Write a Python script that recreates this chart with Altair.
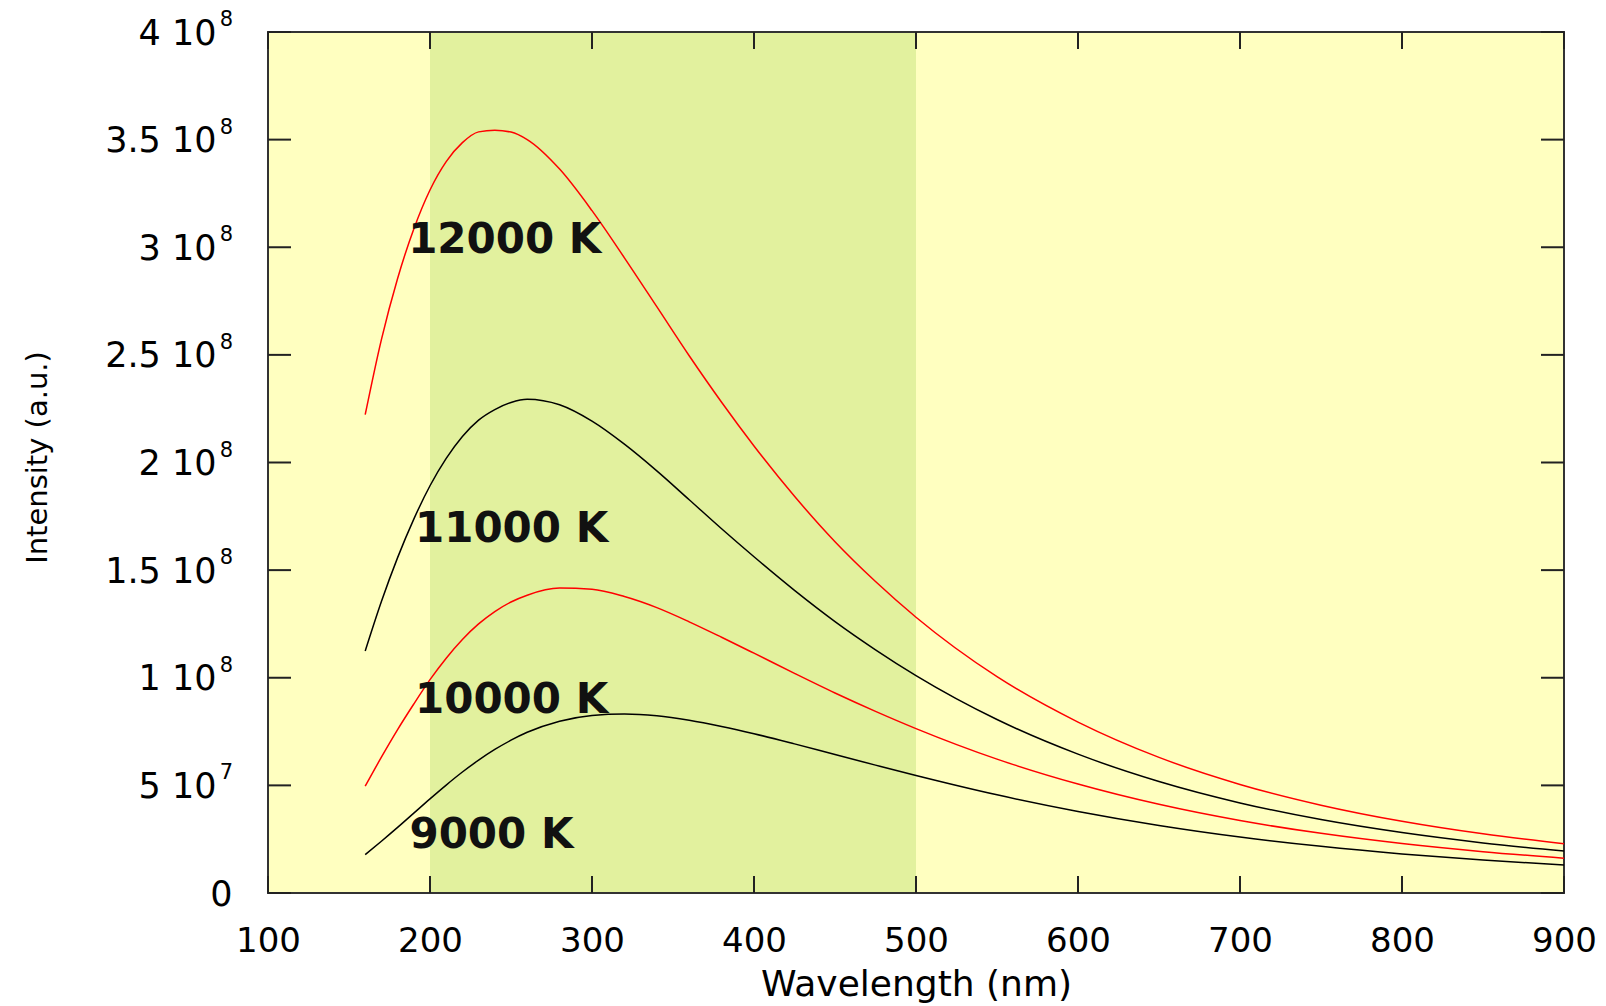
import json
import altair as alt
import pandas as pd

# ---------------- data (intensity in units of 1e8) ----------------
wavelength_nm = [160, 170, 180, 190, 200, 210, 220, 230, 240, 250, 260, 280, 300, 320, 340,
                 360, 380, 400, 425, 450, 475, 500, 550, 600, 650, 700, 750, 800, 850, 900]

intensity_12000K = [2.222, 2.571, 2.855, 3.085, 3.266, 3.398, 3.486, 3.536, 3.544, 3.535, 3.500,
                    3.363, 3.170, 2.951, 2.724, 2.496, 2.280, 2.077, 1.843, 1.632, 1.447, 1.281,
                    1.005, 0.794, 0.630, 0.5045, 0.408, 0.3332, 0.2749, 0.229]
intensity_11000K = [1.124, 1.354, 1.558, 1.737, 1.892, 2.019, 2.121, 2.197, 2.246, 2.279, 2.294,
                    2.268, 2.192, 2.085, 1.961, 1.827, 1.692, 1.562, 1.406, 1.261, 1.130, 1.010,
                    0.806, 0.645, 0.518, 0.4185, 0.341, 0.2806, 0.2327, 0.1948]
intensity_10000K = [0.496, 0.631, 0.759, 0.878, 0.991, 1.091, 1.178, 1.250, 1.3075, 1.352, 1.3835,
                    1.4164, 1.4108, 1.3772, 1.3256, 1.2598, 1.1881, 1.1141, 1.0203, 0.9292,
                    0.8439, 0.7638, 0.6220, 0.5062, 0.4120, 0.3367, 0.2771, 0.2298, 0.1921, 0.1618]
intensity_9000K = [0.178, 0.2405, 0.3047, 0.3711, 0.4374, 0.5015, 0.562, 0.6172, 0.6668, 0.7099,
                   0.7466, 0.7983, 0.8251, 0.8320, 0.8236, 0.8027, 0.7738, 0.7401, 0.6927, 0.6431,
                   0.594, 0.5458, 0.456, 0.3789, 0.3138, 0.2601, 0.2168, 0.1816, 0.1532, 0.1301]

series_names = ["12000 K", "11000 K", "10000 K", "9000 K"]
series_values = [intensity_12000K, intensity_11000K, intensity_10000K, intensity_9000K]
series_colors = ["#ff0000", "#000000", "#ff0000", "#000000"]

label_text = ["12000 K", "11000 K", "10000 K", "9000 K"]
label_x = [186.5, 190.7, 190.7, 187.3]
label_y = [2.973, 1.632, 0.838, 0.2075]

band_start, band_end = 200, 500

x_ticks = [100, 200, 300, 400, 500, 600, 700, 800, 900]
y_ticks = [0, 0.5, 1, 1.5, 2, 2.5, 3, 3.5, 4]
y_tick_main = ["0", "5 10", "1 10", "1.5 10", "2 10", "2.5 10", "3 10", "3.5 10", "4 10"]
y_tick_exp = ["", "7", "8", "8", "8", "8", "8", "8", "8"]

# ---------------- tables ----------------
rows = []
for name, vals in zip(series_names, series_values):
    for wl, v in zip(wavelength_nm, vals):
        rows.append({"wl": wl, "I": v, "series": name})
curves = pd.DataFrame(rows)
labels = pd.DataFrame({"wl": label_x, "I": label_y, "t": label_text})
band = pd.DataFrame({"wl": [band_start], "b": [band_end]})
xt = pd.DataFrame({"wl": x_ticks})
yt = pd.DataFrame({"I": y_ticks, "e": y_tick_exp})

W, H = 1296, 861
FONT = "DejaVu Sans"
xs = alt.Scale(domain=[100, 900], nice=False, zero=False)
ys = alt.Scale(domain=[0, 4], nice=False, zero=False)

label_expr = "{}[indexof({}, datum.value)]".format(
    json.dumps(y_tick_main, ensure_ascii=False), json.dumps(y_ticks))

x_axis = alt.Axis(values=x_ticks, format="d", grid=False, domain=False, ticks=False, tickSize=0,
                  labelPadding=58, labelBaseline="alphabetic", labelFont=FONT, labelFontSize=34,
                  labelColor="#000000", labelFlush=False, labelOverlap=False,
                  title="Wavelength (nm)", titleFont=FONT, titleFontSize=36,
                  titleFontWeight="normal", titleColor="#000000", titleX=W / 2, titleY=102,
                  titleAlign="center", titleBaseline="alphabetic")
y_axis = alt.Axis(values=y_ticks, labelExpr=label_expr, grid=False, domain=False, ticks=False,
                  tickSize=0,
                  labelPadding={"condition": {"test": "datum.value == 0", "value": 36}, "value": 52},
                  labelAlign="right", labelBaseline="alphabetic",
                  labelOffset=12, labelFont=FONT, labelFontSize=35, labelColor="#000000",
                  labelOverlap=False, labelFlush=False,
                  title="Intensity (a.u.)", titleFont=FONT, titleFontSize=29,
                  titleFontWeight="normal", titleColor="#000000", titleAngle=270,
                  titleX=-222, titleY=425, titleAlign="center", titleBaseline="alphabetic")

X = alt.X("wl:Q", scale=xs, axis=x_axis)
Y = alt.Y("I:Q", scale=ys, axis=y_axis)

band_layer = alt.Chart(band).mark_rect(color="#E2F19E").encode(
    x=X, x2="b:Q", y=alt.value(1), y2=alt.value(H - 1))

line_layer = alt.Chart(curves).mark_line(strokeWidth=1.5, interpolate="monotone").encode(
    x=X, y=Y,
    color=alt.Color("series:N", scale=alt.Scale(domain=series_names, range=series_colors),
                    legend=None),
    detail="series:N")

text_layer = alt.Chart(labels).mark_text(align="left", baseline="alphabetic", font=FONT,
                                          fontWeight="bold", fontSize=42, color="#111111").encode(
    x=X, y=Y, text="t:N")

tick_style = dict(color="#222222", strokeWidth=2)
xb = alt.Chart(xt).mark_rule(**tick_style).encode(x=X, y=alt.value(H), y2=alt.value(H - 17))
xtop = alt.Chart(xt).mark_rule(**tick_style).encode(x=X, y=alt.value(0), y2=alt.value(17))
yl = alt.Chart(yt).mark_rule(**tick_style).encode(y=Y, x=alt.value(0), x2=alt.value(23))
yr = alt.Chart(yt).mark_rule(**tick_style).encode(y=Y, x=alt.value(W - 23), x2=alt.value(W))

exp_layer = alt.Chart(yt).mark_text(align="right", baseline="alphabetic", font=FONT,
                                     fontSize=21, dy=-6, color="#000000").encode(
    y=Y, x=alt.value(-35), text="e:N")

chart = alt.layer(band_layer, line_layer, text_layer, xb, xtop, yl, yr, exp_layer).properties(
    width=W, height=H,
    autosize=alt.AutoSizeParams(type="none"),
    padding={"left": 268, "top": 32, "right": 42, "bottom": 113},
    background="#ffffff",
).configure_view(stroke="#333333", strokeWidth=2, fill="#FFFFC0")

chart.save("out.html", embed_options={"renderer": "svg", "actions": False})
